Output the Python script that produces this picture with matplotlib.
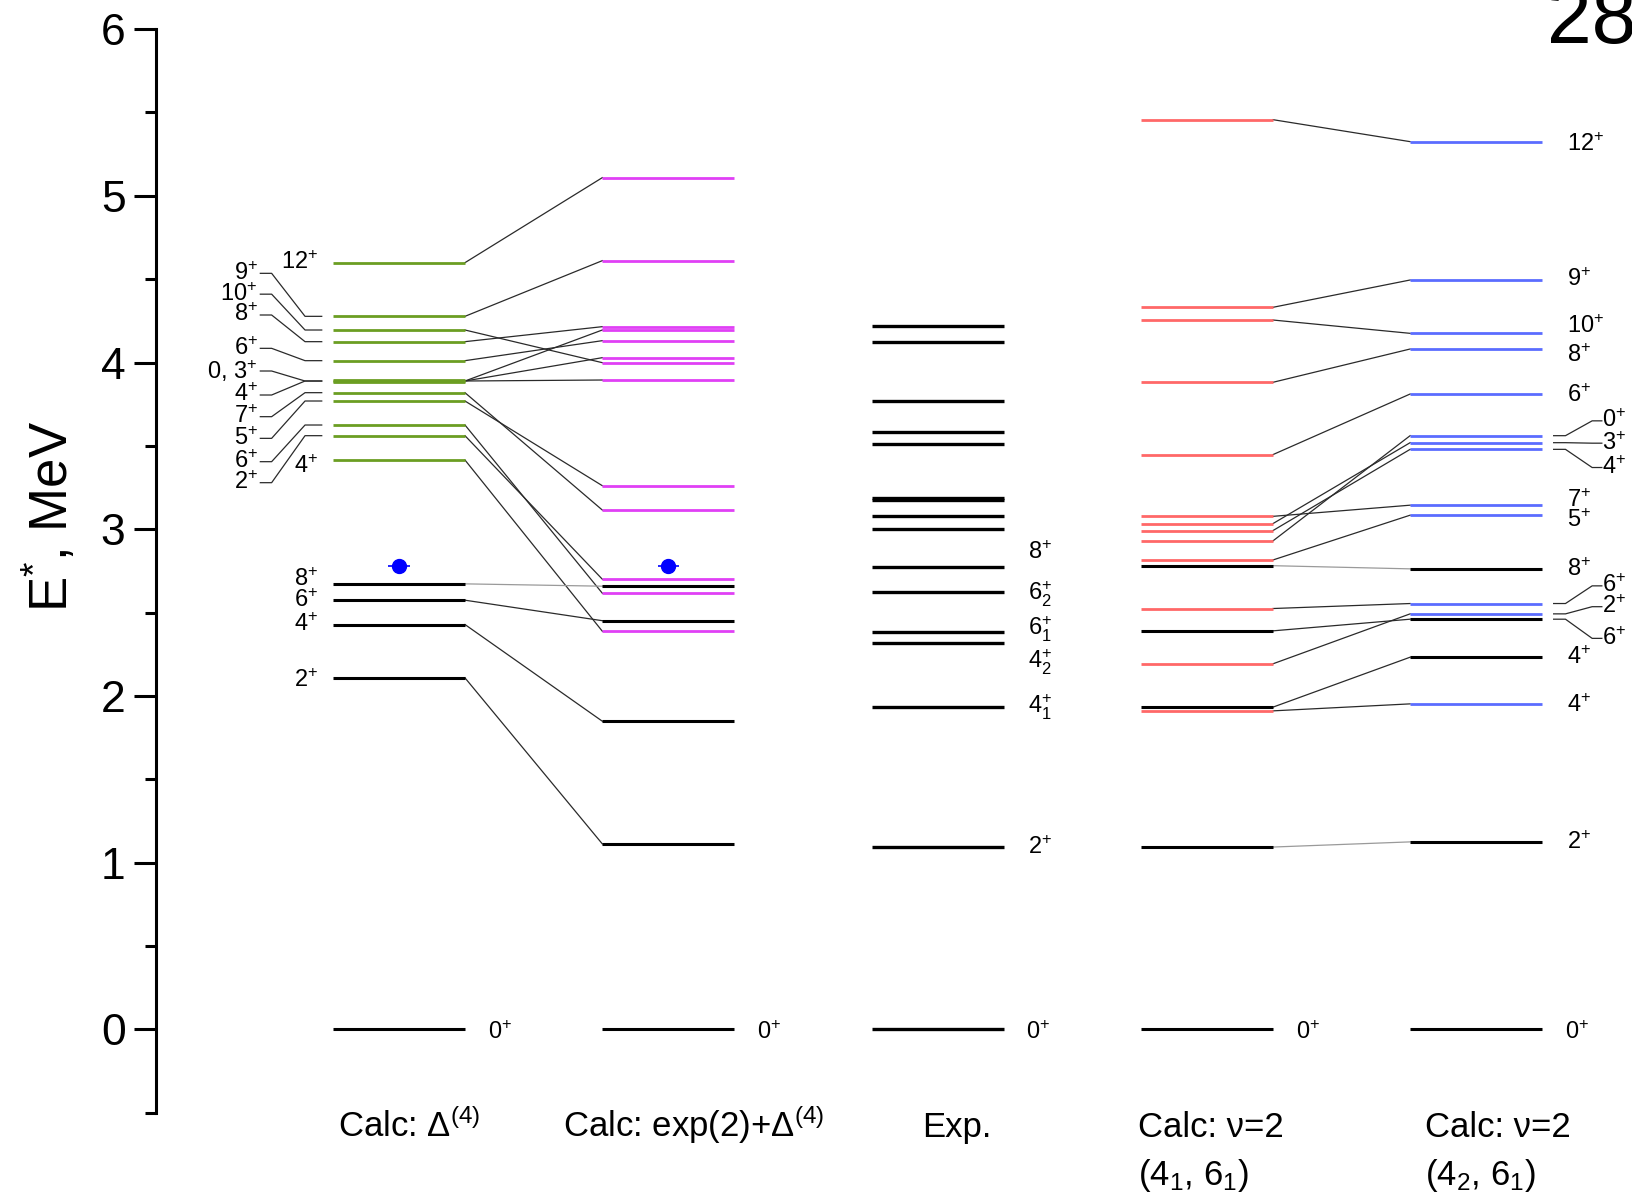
# Level scheme: calc vs exp

import matplotlib
matplotlib.use('Agg')
from matplotlib import pyplot as plt
from matplotlib.ticker import MultipleLocator

plt.rcParams['font.family'] = ['Liberation Sans', 'DejaVu Sans']
plt.rcParams['mathtext.fontset'] = 'custom'
plt.rcParams['mathtext.rm'] = 'Liberation Sans'
plt.rcParams['mathtext.it'] = 'Liberation Sans:italic'
plt.rcParams['mathtext.bf'] = 'Liberation Sans:bold'

# Energies, MeV
calc1_green = [4.599, 4.277, 4.195, 4.125, 4.011, 3.893, 3.887, 3.884,
               3.819, 3.769, 3.625, 3.561, 3.415]
calc1_black = [2.672, 2.574, 2.428, 2.108, 0.0]
calc2_magenta = [5.109, 4.611, 4.215, 4.195, 4.131, 4.029, 3.999, 3.895,
                 3.261, 3.115, 2.700, 2.616, 2.388]
calc2_black = [2.658, 2.451, 1.848, 1.112, 0.0]
exp_levels = [4.219, 4.121, 3.769, 3.581, 3.510, 3.188, 3.174, 3.081, 3.000,
              2.772, 2.625, 2.385, 2.316, 1.932, 1.093, 0.0]
calc4_red = [5.457, 4.331, 4.255, 3.881, 3.447, 3.077, 3.033, 2.991, 2.929,
             2.815, 2.524, 2.192, 1.910]
calc4_black = [2.781, 2.390, 1.932, 1.093, 0.0]
calc5_blue = [5.325, 4.495, 4.175, 4.081, 3.811, 3.561, 3.519, 3.479, 3.144,
              3.084, 2.554, 2.492, 1.952]
calc5_black = [2.762, 2.460, 2.232, 1.124, 0.0]

# blue points, E
points_e = [2.78, 2.78]

# links between columns (E left, E right)
links_1_2 = [(4.599, 5.109), (4.277, 4.611), (4.195, 3.999), (4.125, 4.215),
             (4.011, 4.131), (3.889, 4.195), (3.889, 4.029), (3.889, 3.895),
             (3.819, 3.115), (3.769, 3.261), (3.625, 2.616), (3.561, 2.700),
             (3.415, 2.388), (2.574, 2.451), (2.428, 1.848), (2.108, 1.112)]
links_1_2_grey = [(2.672, 2.658)]
links_4_5 = [(5.457, 5.325), (4.331, 4.495), (4.255, 4.175), (3.881, 4.081),
             (3.447, 3.811), (3.077, 3.144), (3.033, 3.519), (2.991, 3.479),
             (2.929, 3.561), (2.815, 3.084), (2.524, 2.554), (2.390, 2.460),
             (2.192, 2.492), (1.932, 2.232), (1.910, 1.952)]
links_4_5_grey = [(2.781, 2.762), (1.093, 1.124)]

# labels
c1_fan_names = ['9', '10', '8', '6', '0, 3', '4', '7', '5', '6', '2']
c1_fan_level = [4.277, 4.195, 4.125, 4.011, 3.889, 3.889, 3.819, 3.769, 3.625, 3.561]
c1_fan_text = [4.535, 4.410, 4.285, 4.085, 3.949, 3.805, 3.675, 3.545, 3.405, 3.279]
c1_names = ['12', '4', '8', '6', '4', '2']
c1_text = [4.60, 3.375, 2.70, 2.57, 2.43, 2.09]
exp_names = ['8$^{+}$', r'6$_{2}^{+}$', r'6$_{1}^{+}$', r'4$_{2}^{+}$', r'4$_{1}^{+}$', '2$^{+}$']
exp_text = [2.86, 2.61, 2.40, 2.20, 1.93, 1.09]
c5_names = ['12', '9', '10', '8', '6', '7', '5', '8', '4', '4', '2']
c5_text = [5.31, 4.50, 4.215, 4.04, 3.80, 3.17, 3.05, 2.755, 2.23, 1.94, 1.12]
c5_fan_names = ['0', '3', '4', '6', '2', '6']
c5_fan_level = [3.561, 3.519, 3.479, 2.554, 2.492, 2.460]
c5_fan_text = [3.650, 3.516, 3.370, 2.660, 2.535, 2.345]

col_line1 = [r'Calc: $\Delta^{(4)}$', r'Calc: exp(2)+$\Delta^{(4)}$', 'Exp.',
             'Calc: ν=2', 'Calc: ν=2']
col_line2 = ['', '', '', r'(4$_1$, 6$_1$)', r'(4$_2$, 6$_1$)']

W = 0.49
GREEN, MAGENTA, RED, BLUE = '#6b9e22', '#e040f5', '#ff6868', '#5b6cff'

fig = plt.figure(figsize=(16.32, 12), dpi=100)
ax = fig.add_axes([150 / 1568, 1 - 1069 / 1153, 1 - 150 / 1568, (1069 - 28) / 1153])
ax.set_xlim(-0.657, 4.824)
ax.set_ylim(-0.5, 6)


def levels(col, es, color, lw):
    ax.hlines(es, col, col + W, colors=color, lw=lw, zorder=3)


def links(c0, pairs, color='#2a2a2a'):
    for a, b in pairs:
        ax.plot([c0 + W, c0 + 1], [a, b], color=color, lw=0.9, zorder=2)


def sup(s):
    return s + r'$^{+}$'


# connections
links(0, links_1_2)
links(0, links_1_2_grey, '#9a9a9a')
links(3, links_4_5)
links(3, links_4_5_grey, '#9a9a9a')

# levels
levels(0, calc1_green, GREEN, 2.0)
levels(0, calc1_black, 'black', 2.2)
levels(1, calc2_magenta, MAGENTA, 2.0)
levels(1, calc2_black, 'black', 2.2)
levels(2, exp_levels, 'black', 2.4)
levels(3, calc4_red, RED, 2.0)
levels(3, calc4_black, 'black', 2.2)
levels(4, calc5_blue, BLUE, 2.0)
levels(4, calc5_black, 'black', 2.2)

# blue points with small horizontal bars
ax.errorbar([W / 2, 1 + W / 2], points_e, xerr=0.04, fmt='o', color='#0000ff',
            ms=10, elinewidth=1.2, capsize=0, zorder=4)

fs = 17
# col 1, left fan
for n, le, te in zip(c1_fan_names, c1_fan_level, c1_fan_text):
    ax.plot([-0.042, -0.104, -0.228, -0.27], [le, le, te, te], color='#2a2a2a', lw=0.9)
    ax.text(-0.28, te, sup(n), ha='right', va='center', fontsize=fs)
for n, te in zip(c1_names, c1_text):
    ax.text(-0.055, te, sup(n), ha='right', va='center', fontsize=fs)

# exp labels
for n, te in zip(exp_names, exp_text):
    ax.text(2.58, te, n, ha='left', va='center', fontsize=fs)

# col 5 labels
for n, te in zip(c5_names, c5_text):
    ax.text(4.584, te, sup(n), ha='left', va='center', fontsize=fs)
for n, le, te in zip(c5_fan_names, c5_fan_level, c5_fan_text):
    ax.plot([4.533, 4.577, 4.676, 4.712], [le, le, te, te], color='#2a2a2a', lw=0.9,
            clip_on=False)
    ax.text(4.714, te, sup(n), ha='left', va='center', fontsize=fs)

# ground states
for c in range(5):
    ax.text(c + 0.575, -0.02, sup('0'), ha='left', va='center', fontsize=fs)

# column titles
title_x = [0.019, 0.854, 2.189, 2.988, 4.054]
for x, t1, t2 in zip(title_x, col_line1, col_line2):
    ax.text(x, -0.649, t1, ha='left', va='baseline', fontsize=25, clip_on=False)
    if t2:
        ax.text(x, -0.935, t2, ha='left', va='baseline', fontsize=25, clip_on=False)

# axes
for s in ['top', 'right', 'bottom']:
    ax.spines[s].set_visible(False)
ax.spines['left'].set_linewidth(2.2)
ax.set_xticks([])
ax.set_yticks(range(0, 7))
ax.yaxis.set_minor_locator(MultipleLocator(0.5))
ax.tick_params(axis='y', which='major', direction='out', length=16, width=2.2,
               labelsize=32, pad=6)
ax.tick_params(axis='y', which='minor', direction='out', length=8, width=2.2)
ax.set_ylabel(r'E$^{*}$, MeV', fontsize=38)
ax.yaxis.set_label_coords(-0.052, 0.55)

fig.text(0.948, 0.9644, '28', fontsize=58, va='baseline', ha='left')

plt.savefig('out.png', dpi=100)
